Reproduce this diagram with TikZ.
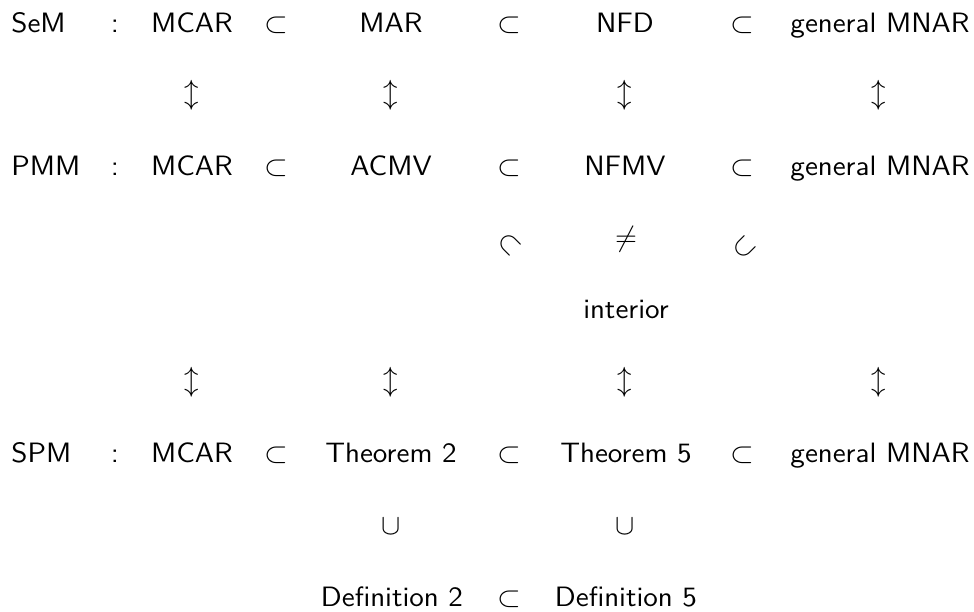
\documentclass[tikz,border=0pt]{standalone}
\begin{document}
\begin{tikzpicture}[x=0.5pt,y=-0.5pt,
  lbl/.style={inner sep=0pt, anchor=base, xscale=1.06, font=\sffamily\fontsize{14}{16}\selectfont},
  sym/.style={inner sep=0pt, anchor=center, font=\fontsize{14.5}{16}\selectfont}]
\useasboundingbox (0,0) rectangle (974,611);

% row 1: selection models
\node[lbl, anchor=base west] (sem) at (11,32) {SeM};
\node[lbl] (c1) at (115,32) {:};
\node[lbl] (a1) at (192,32) {MCAR};
\node[lbl] (s11) at (276,32) {$\subset$};
\node[lbl] (b1) at (391,32) {MAR};
\node[lbl] (s12) at (509,32) {$\subset$};
\node[lbl] (d1) at (625,32) {NFD};
\node[lbl] (s13) at (742,32) {$\subset$};
\node[lbl] (e1) at (880,32) {general MNAR};

% equivalences between rows 1 and 2
\node[sym] (u1) at (192,95) {$\updownarrow$};
\node[sym] (u2) at (391,95) {$\updownarrow$};
\node[sym] (u3) at (625,95) {$\updownarrow$};
\node[sym] (u4) at (879,95) {$\updownarrow$};

% row 2: pattern mixture models
\node[lbl, anchor=base west] (pmm) at (11,175) {PMM};
\node[lbl] (c2) at (115,175) {:};
\node[lbl] (a2) at (192,175) {MCAR};
\node[lbl] (s21) at (276,175) {$\subset$};
\node[lbl] (b2) at (391,175) {ACMV};
\node[lbl] (s22) at (509,175) {$\subset$};
\node[lbl] (d2) at (625,175) {NFMV};
\node[lbl] (s23) at (742,175) {$\subset$};
\node[lbl] (e2) at (880,175) {general MNAR};

% intersection of ACMV and NFMV
\node[sym, rotate=-45] (r1) at (510,244) {$\subset$};
\node[sym] (ne) at (626,239) {$\neq$};
\node[sym, rotate=45] (r2) at (744,247) {$\subset$};
\node[lbl] (int) at (626,318) {interior};

% equivalences between rows 2 and 3
\node[sym] (v1) at (192,382) {$\updownarrow$};
\node[sym] (v2) at (391,382) {$\updownarrow$};
\node[sym] (v3) at (625,382) {$\updownarrow$};
\node[sym] (v4) at (879,382) {$\updownarrow$};

% row 3: shared parameter models
\node[lbl, anchor=base west] (spm) at (11,462) {SPM};
\node[lbl] (c3) at (115,462) {:};
\node[lbl] (a3) at (192,462) {MCAR};
\node[lbl] (s31) at (276,462) {$\subset$};
\node[lbl] (b3) at (391,462) {Theorem 2};
\node[lbl] (s32) at (509,462) {$\subset$};
\node[lbl] (d3) at (626,462) {Theorem 5};
\node[lbl] (s33) at (742,462) {$\subset$};
\node[lbl] (e3) at (880,462) {general MNAR};

% supersets
\node[sym] (w1) at (391,526) {$\cup$};
\node[sym] (w2) at (625,526) {$\cup$};

% row 4: definitions
\node[lbl] (b4) at (392,606) {Definition 2};
\node[lbl] (s42) at (509,606) {$\subset$};
\node[lbl] (d4) at (626,606) {Definition 5};
\end{tikzpicture}
\end{document}
